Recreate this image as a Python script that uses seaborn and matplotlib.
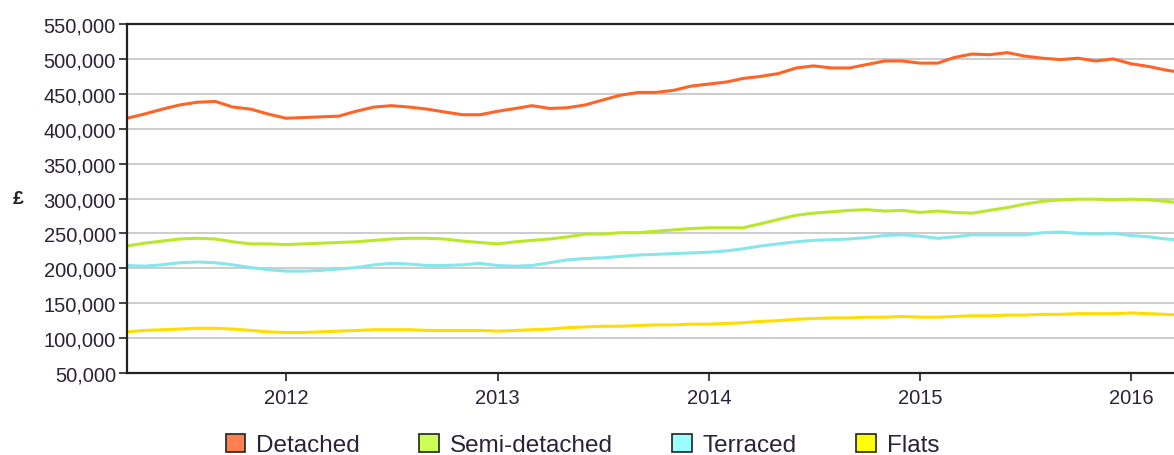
import matplotlib

matplotlib.use("Agg")

import matplotlib.pyplot as plt
import matplotlib.dates as mdates
import matplotlib.ticker as mticker
from matplotlib.patches import Rectangle
import pandas as pd
import seaborn as sns


# 月次データ (2011年4月〜2016年4月)
months = pd.date_range("2011-04-01", periods=61, freq="MS")

detached = [
    415, 421, 428, 434, 438, 439, 431, 428, 421, 415,
    416, 417, 418, 425, 431, 433, 431, 428, 424, 420,
    420, 425, 429, 433, 429, 430, 434, 441, 448, 452,
    452, 455, 461, 464, 467, 472, 475, 479, 487, 490,
    487, 487, 492, 497, 497, 494, 494, 502, 507, 506,
    509, 504, 501, 499, 501, 497, 500, 493, 489, 484,
    480,
]
semi_detached = [
    232, 236, 239, 242, 243, 242, 238, 235, 235, 234,
    235, 236, 237, 238, 240, 242, 243, 243, 242, 239,
    237, 235, 238, 240, 242, 245, 249, 249, 251, 251,
    253, 255, 257, 258, 258, 258, 264, 270, 276, 279,
    281, 283, 284, 282, 283, 280, 282, 280, 279, 283,
    287, 292, 296, 298, 299, 299, 298, 299, 298, 296,
    293,
]
terraced = [
    204, 203, 205, 208, 209, 208, 205, 201, 198, 196,
    196, 197, 199, 201, 205, 207, 206, 204, 204, 205,
    207, 204, 203, 204, 208, 212, 214, 215, 217, 219,
    220, 221, 222, 223, 225, 228, 232, 235, 238, 240,
    241, 242, 244, 247, 248, 246, 243, 245, 248, 248,
    248, 248, 251, 252, 250, 249, 250, 247, 245, 242,
    240,
]
flats = [
    109, 111, 112, 113, 114, 114, 113, 111, 109, 108,
    108, 109, 110, 111, 112, 112, 112, 111, 111, 111,
    111, 110, 111, 112, 113, 115, 116, 117, 117, 118,
    119, 119, 120, 120, 121, 122, 124, 125, 127, 128,
    129, 129, 130, 130, 131, 130, 130, 131, 132, 132,
    133, 133, 134, 134, 135, 135, 135, 136, 135, 134,
    133,
]

series_names = ["Detached", "Semi-detached", "Terraced", "Flats"]
line_colors = ["#FF6426", "#B9E82A", "#86E6EC", "#FFDD00"]
legend_colors = ["#FF7F50", "#CCFF55", "#99FFFF", "#FFFF00"]
y_ticks = list(range(50000, 550001, 50000))


def main():
    # 縦持ちの DataFrame に変換
    frames = []
    for name, values in zip(series_names, [detached, semi_detached, terraced, flats]):
        frames.append(
            pd.DataFrame({"month": months, "price": [v * 1000 for v in values], "type": name})
        )
    df = pd.concat(frames, ignore_index=True)

    sns.set_style("white")
    plt.rcParams["font.family"] = ["Liberation Sans", "DejaVu Sans"]

    fig = plt.figure(figsize=(11.74, 4.56), dpi=100)
    ax = fig.add_axes([127 / 1174, 1 - 374 / 456, 1 - 127 / 1174, 349 / 456])

    sns.lineplot(
        data=df,
        x="month",
        y="price",
        hue="type",
        hue_order=series_names,
        palette=dict(zip(series_names, line_colors)),
        linewidth=2.2,
        legend=False,
        ax=ax,
    )

    # 軸の範囲と目盛り
    ax.set_xlim(pd.Timestamp("2011-04-01"), pd.Timestamp("2016-03-15"))
    ax.set_ylim(50000, 550000)
    ax.set_yticks(y_ticks)
    ax.yaxis.set_major_formatter(mticker.StrMethodFormatter("{x:,.0f}"))
    ax.xaxis.set_major_locator(mdates.YearLocator())
    ax.xaxis.set_major_formatter(mdates.DateFormatter("%Y"))

    ax.grid(axis="y", color="#CCCCCC", linewidth=1.4)
    ax.set_axisbelow(True)
    ax.tick_params(
        axis="both", direction="out", length=6, width=1.2, color="#222222",
        labelsize=14.5, labelcolor="#2A2238", left=True, bottom=True,
    )
    ax.tick_params(axis="y", pad=2)
    ax.tick_params(axis="x", pad=5)

    for side in ["left", "top", "bottom"]:
        ax.spines[side].set_color("#222222")
        ax.spines[side].set_linewidth(1.6)
    ax.spines["right"].set_visible(False)

    ax.set_xlabel("")
    ax.set_ylabel(
        "£", rotation=0, fontsize=14, fontweight="bold", color="#222222",
        va="center", ha="center",
    )
    ax.yaxis.set_label_coords(-0.104, 0.5)

    # 凡例 (図の下部)
    handles = [
        Rectangle((0, 0), 1, 1, facecolor=c, edgecolor="#222222", linewidth=1.2)
        for c in legend_colors
    ]
    fig.legend(
        handles,
        series_names,
        loc="center",
        bbox_to_anchor=(0.496, 0.022),
        ncol=4,
        frameon=False,
        fontsize=17.5,
        handlelength=0.8,
        handleheight=0.8,
        handletextpad=0.45,
        columnspacing=2.45,
        labelcolor="#2A2238",
    )

    fig.savefig("out.png", dpi=100)
    plt.close(fig)


if __name__ == "__main__":
    main()
